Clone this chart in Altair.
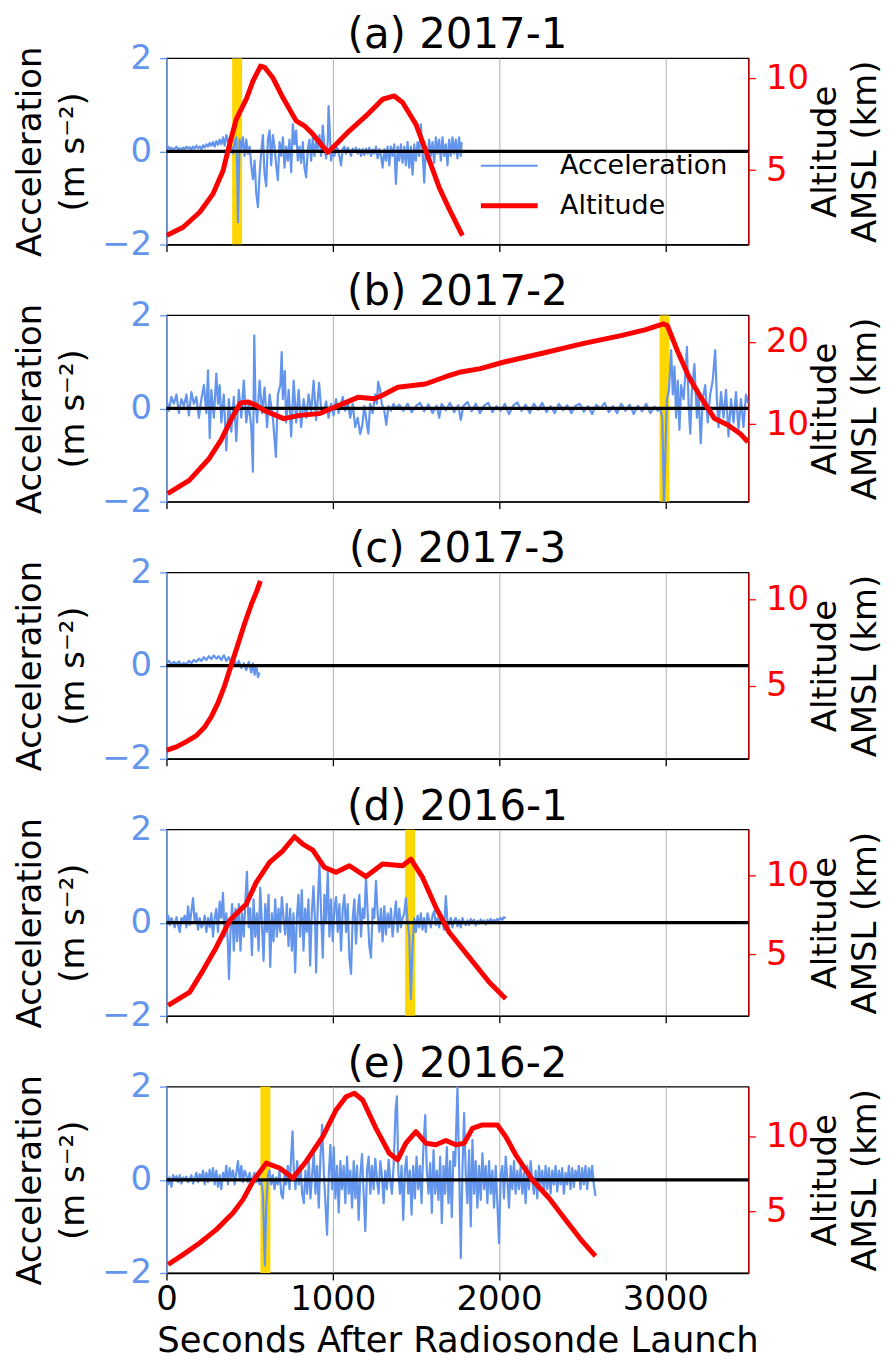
import altair as alt
import pandas as pd

FONT = "DejaVu Sans"
BLUE = "#6495ED"
RED = "#FF0000"
GOLD = "#FFD700"

# ---------------- data (seconds, value) ----------------
A_ACC = [[0,0.05],[10,0.1],[20,0.05],[30,0.08],[40,0.03],[50,0.06],[60,0.1],[70,0.04],[80,0.07],[90,0.02],
 [100,0.08],[110,0.05],[120,0.1],[130,0.06],[140,0.09],[150,0.04],[160,0.1],[170,0.06],[180,0.12],[190,0.07],
 [200,0.1],[210,0.05],[220,0.13],[230,0.08],[240,0.15],[250,0.1],[260,0.18],[270,0.12],[280,0.2],[290,0.1],
 [300,0.22],[310,0.14],[320,0.25],[330,0.15],[340,0.3],[350,0.12],[360,0.35],[370,0.2],[380,0.28],[390,0.1],
 [400,-0.05],[410,0.2],[420,0.3],[425,-0.3],[430,-1.52],[435,-0.6],[440,0.25],[450,0.05],[460,0.3],[470,-0.1],
 [480,0.25],[490,-0.05],[500,0.1],[510,-0.3],[520,-0.6],[530,-0.2],[540,-0.9],[550,-1.2],[560,-0.5],[570,0.0],
 [580,0.35],[590,-0.5],[600,-0.75],[610,0.25],[620,0.45],[630,-0.3],[640,0.35],[650,0.1],[660,-0.3],[670,-0.62],
 [680,0.2],[690,-0.1],[700,0.3],[710,-0.35],[720,0.1],[730,-0.2],[740,0.25],[750,-0.45],[760,0.58],[770,0.15],
 [780,0.45],[790,-0.2],[800,0.1],[810,-0.25],[820,0.2],[830,-0.35],[840,-0.56],[850,0.05],[860,0.25],[870,-0.2],
 [880,0.3],[890,-0.1],[900,0.2],[910,0.05],[920,0.35],[930,-0.1],[940,0.55],[950,0.1],[960,-0.15],[970,0.2],
 [975,0.97],[985,0.2],[990,-0.2],[1000,0.05],[1010,-0.1],[1020,0.1],[1030,0.05],[1040,-0.1],[1050,-0.3],[1060,0.05],
 [1070,0.1],[1080,-0.05],[1090,0.08],[1100,0.02],[1110,-0.1],[1120,0.06],[1130,0.0],[1140,0.08],[1150,-0.05],[1160,0.05],
 [1170,-0.1],[1180,0.05],[1190,-0.08],[1200,0.06],[1210,-0.05],[1220,0.08],[1230,-0.1],[1240,0.04],[1250,-0.05],[1260,0.1],
 [1270,-0.15],[1280,0.05],[1290,-0.1],[1300,-0.35],[1310,0.05],[1320,-0.2],[1330,0.1],[1340,-0.3],[1350,0.1],[1360,-0.1],
 [1370,0.15],[1380,-0.7],[1390,0.1],[1400,-0.2],[1410,0.15],[1420,-0.25],[1430,0.1],[1440,-0.3],[1450,0.2],[1460,-0.35],
 [1470,0.1],[1480,-0.5],[1490,0.15],[1500,-0.2],[1510,0.2],[1520,-0.1],[1530,0.58],[1540,0.0],[1550,-0.67],[1560,0.1],
 [1570,-0.2],[1580,0.25],[1590,-0.1],[1600,0.2],[1610,-0.25],[1620,0.3],[1630,-0.05],[1640,0.25],[1650,-0.2],[1660,0.3],
 [1670,-0.1],[1680,0.15],[1690,-0.3],[1700,0.25],[1710,-0.1],[1720,0.3],[1730,-0.05],[1740,0.25],[1750,-0.15],[1760,0.3],
 [1770,-0.1],[1775,0.2]]
A_ALT = [[0,1.43],[100,1.88],[200,2.7],[280,3.7],[340,4.96],[380,6.41],[420,7.77],[480,8.86],[520,9.85],[566,10.67],
 [590,10.6],[640,10.03],[700,8.95],[780,7.68],[830,7.41],[880,6.96],[970,5.96],[1020,6.41],[1100,7.14],[1200,7.95],
 [1300,8.86],[1370,9.04],[1420,8.68],[1500,7.5],[1560,6.05],[1640,4.05],[1700,2.88],[1780,1.43]]

B_ACC = [[0,0.2],[15,-0.05],[30,0.25],[45,0.1],[60,0.3],[75,-0.1],[90,0.2],[105,0.05],[120,0.3],[135,-0.15],
 [150,0.35],[165,0.1],[180,0.25],[195,-0.2],[210,0.2],[225,0.5],[240,-0.1],[250,0.82],[260,-0.64],[270,0.4],
 [285,-0.2],[300,0.75],[310,0.1],[320,0.5],[330,-0.3],[345,0.3],[360,-0.9],[375,0.2],[390,-0.5],[405,0.25],
 [420,-0.7],[435,0.4],[450,-0.2],[465,0.6],[480,-0.3],[495,0.1],[510,-0.4],[520,-1.36],[528,1.57],[535,0.2],
 [545,-0.3],[560,0.6],[575,-0.1],[590,0.45],[605,-0.4],[620,0.3],[640,-0.2],[658,-1.04],[670,0.3],[685,0.5],
 [693,1.21],[700,0.2],[712,0.8],[720,-0.3],[735,0.4],[750,-0.6],[765,0.6],[780,-0.3],[795,0.4],[810,-0.4],
 [825,0.2],[840,-0.2],[855,0.3],[870,-0.1],[885,0.6],[900,-0.25],[918,0.55],[930,0.0],[945,-0.1],[960,0.15],
 [975,-0.2],[990,0.1],[1005,-0.15],[1020,0.2],[1035,-0.1],[1050,0.1],[1060,0.25],[1075,-0.05],[1090,0.15],[1105,-0.2],
 [1120,0.1],[1135,-0.4],[1150,-0.2],[1165,-0.55],[1178,-0.35],[1190,0.05],[1200,-0.2],[1214,-0.54],[1225,0.1],[1240,-0.1],
 [1255,0.3],[1265,0.1],[1273,0.57],[1285,0.4],[1295,0.1],[1310,-0.05],[1322,-0.35],[1335,0.05],[1350,-0.05],[1365,0.1],
 [1380,0.0],[1400,0.08],[1425,-0.05],[1450,0.1],[1475,-0.08],[1500,0.05],[1525,0.12],[1550,-0.06],[1575,0.09],[1600,-0.1],
 [1625,0.06],[1640,-0.2],[1655,0.1],[1680,-0.04],[1705,0.12],[1730,-0.08],[1755,0.07],[1770,-0.25],[1785,0.05],[1810,0.14],
 [1835,-0.06],[1860,0.1],[1885,-0.1],[1910,0.06],[1935,0.12],[1960,-0.08],[1985,0.05],[2010,-0.05],[2035,0.1],[2060,-0.12],
 [2085,0.06],[2110,0.13],[2135,-0.05],[2160,0.08],[2185,-0.1],[2210,0.1],[2235,-0.03],[2260,0.12],[2285,-0.08],[2310,0.05],
 [2335,-0.1],[2360,0.1],[2385,-0.04],[2410,0.07],[2435,-0.1],[2460,0.06],[2485,0.1],[2510,-0.07],[2535,0.05],[2560,-0.12],
 [2585,0.08],[2610,0.0],[2635,0.12],[2660,-0.08],[2685,0.05],[2710,-0.1],[2735,0.1],[2760,-0.05],[2785,0.08],[2810,-0.12],
 [2835,0.06],[2860,-0.06],[2885,0.1],[2910,-0.1],[2935,0.04],[2955,-0.05],[2970,0.0],[2982,-0.2],[2992,-2.1],[3000,-1.0],
 [3010,0.2],[3022,0.4],[3035,1.25],[3045,0.3],[3055,0.9],[3065,-0.2],[3075,0.6],[3085,-0.46],[3095,0.5],[3110,0.2],
 [3120,0.7],[3130,1.32],[3140,0.1],[3150,-0.54],[3160,0.4],[3175,0.95],[3190,-0.2],[3200,0.3],[3213,-0.75],[3225,0.2],
 [3240,0.5],[3255,-0.3],[3270,0.3],[3285,0.6],[3300,1.25],[3310,0.2],[3320,-0.4],[3335,0.35],[3350,-0.2],[3365,0.4],
 [3380,-0.6],[3395,0.2],[3410,-0.3],[3425,0.35],[3440,-0.45],[3455,0.2],[3470,-0.4],[3485,0.3],[3500,0.1]]
B_ALT = [[7,1.58],[137,3.2],[256,5.83],[327,8.06],[397,10.9],[445,12.59],[492,12.71],[540,12.3],[587,11.7],[705,10.69],
 [800,11.09],[918,11.3],[1013,12.1],[1084,12.7],[1155,13.3],[1249,13.1],[1297,13.5],[1391,14.5],[1557,14.9],[1675,15.75],
 [1770,16.36],[1888,16.76],[2030,17.57],[2267,18.66],[2503,19.8],[2740,20.8],[2882,21.5],[2988,22.2],[3012,22.0],[3071,19.0],
 [3142,15.75],[3213,13.3],[3296,10.7],[3379,9.9],[3450,8.87],[3497,7.85]]

C_ACC = [[0,0.05],[15,0.1],[30,0.02],[45,0.08],[60,0.03],[75,0.09],[90,0.0],[105,0.06],[120,0.02],[135,0.1],
 [150,0.05],[165,0.12],[180,0.08],[195,0.15],[210,0.1],[225,0.18],[240,0.12],[255,0.2],[270,0.14],[285,0.22],
 [300,0.15],[315,0.2],[330,0.12],[345,0.22],[360,0.1],[375,0.18],[390,0.05],[405,0.12],[420,0.0],[435,0.1],
 [450,-0.05],[465,0.05],[480,-0.1],[495,0.08],[510,-0.15],[520,0.05],[530,-0.2],[540,0.0],[550,-0.25],[560,-0.15]]
C_ALT = [[0,1.25],[60,1.45],[120,1.75],[180,2.1],[230,2.6],[270,3.2],[310,4.0],[350,5.0],[390,6.2],[430,7.4],
 [470,8.6],[510,9.7],[540,10.4],[565,11.07]]

D_ACC = [[0,0.1],[10,0.15],[20,-0.05],[30,0.1],[40,0.0],[50,-0.1],[60,0.12],[70,-0.05],[80,-0.2],[90,0.1],
 [100,0.05],[110,0.15],[120,-0.1],[130,0.35],[140,-0.05],[150,0.25],[160,0.53],[170,0.0],[180,0.2],[190,-0.15],
 [200,0.1],[210,-0.1],[220,-0.05],[230,0.15],[240,-0.2],[250,0.1],[260,-0.1],[270,0.2],[280,-0.3],[290,0.1],
 [300,0.3],[310,-0.2],[320,0.45],[330,0.1],[340,0.64],[350,-0.3],[360,0.2],[370,-0.5],[376,-1.21],[385,-0.2],
 [395,0.4],[405,-0.6],[415,0.3],[425,-0.4],[435,0.4],[445,-0.6],[455,0.2],[465,-0.3],[475,0.5],[484,1.09],
 [494,-0.1],[504,0.3],[514,-0.7],[524,0.5],[534,-0.3],[544,0.2],[554,-0.6],[564,0.75],[574,0.0],[584,-0.82],
 [594,0.4],[604,-0.2],[614,0.6],[624,-0.95],[634,0.2],[644,-0.4],[654,0.5],[664,-0.3],[674,0.3],[684,-0.2],
 [694,0.55],[704,0.1],[714,-0.25],[724,0.4],[734,-0.5],[744,0.3],[754,-0.6],[764,0.2],[774,-1.07],[784,0.1],
 [794,0.6],[804,-0.3],[814,0.7],[824,-0.6],[834,0.3],[844,-0.2],[854,0.5],[864,-0.92],[874,0.2],[884,0.78],
 [894,0.0],[900,-1.07],[910,0.4],[920,1.28],[930,0.2],[940,-0.75],[950,0.6],[960,0.0],[970,1.1],[980,-0.3],
 [990,0.5],[1000,-0.4],[1010,0.3],[1020,0.55],[1030,-0.2],[1040,0.4],[1050,-0.6],[1060,0.3],[1070,0.6],[1080,-0.2],
 [1090,0.4],[1100,-0.75],[1110,-1.1],[1120,0.1],[1130,0.5],[1140,-0.45],[1150,0.2],[1160,0.6],[1170,-0.3],[1180,0.3],
 [1190,0.1],[1200,0.96],[1210,0.2],[1220,-0.5],[1230,-0.75],[1240,0.3],[1250,0.1],[1260,0.9],[1270,0.2],[1280,-0.2],
 [1290,0.3],[1300,-0.4],[1310,0.35],[1320,-0.25],[1330,0.2],[1340,-0.1],[1350,0.3],[1360,-0.3],[1370,0.1],[1380,0.46],
 [1390,-0.2],[1400,0.3],[1410,-0.1],[1420,0.1],[1430,0.2],[1440,0.53],[1450,0.0],[1460,-0.3],[1470,-1.64],[1480,-0.5],
 [1490,0.1],[1500,-0.2],[1510,0.15],[1520,-0.1],[1530,0.2],[1540,-0.15],[1550,0.1],[1560,-0.2],[1570,0.2],[1580,0.05],
 [1590,-0.1],[1600,0.15],[1610,0.25],[1620,-0.05],[1630,0.1],[1640,-0.1],[1650,0.15],[1660,0.0],[1670,-0.15],[1680,0.57],
 [1690,0.0],[1700,-0.05],[1710,0.1],[1720,-0.1],[1730,0.05],[1740,0.1],[1750,-0.08],[1760,0.05],[1770,-0.1],[1780,0.1],
 [1790,0.0],[1800,-0.05],[1810,0.05],[1820,-0.05],[1830,0.08],[1840,0.0],[1850,0.06],[1860,-0.06],[1870,0.04],[1880,-0.02],
 [1890,0.07],[1900,0.0],[1910,0.05],[1920,-0.04],[1930,0.06],[1940,0.02],[1950,0.08],[1960,0.0],[1970,0.06],[1980,0.03],
 [1990,0.08],[2000,0.05],[2010,0.1],[2020,0.06],[2030,0.12],[2040,0.1]]
D_ALT = [[10,1.77],[140,2.61],[220,3.99],[300,5.46],[380,7.15],[480,8.2],[540,9.58],[620,10.84],[700,11.58],[770,12.47],
 [820,12.0],[880,11.62],[950,10.53],[1020,10.21],[1100,10.63],[1200,9.94],[1300,10.74],[1420,10.63],[1470,11.05],[1540,9.89],
 [1620,7.99],[1700,6.41],[1820,4.83],[1940,3.25],[2040,2.19]]

E_ACC = [[0,0.2],[10,-0.1],[20,0.05],[30,-0.15],[40,0.1],[50,0.0],[60,0.08],[70,-0.05],[80,0.1],[90,-0.08],
 [100,0.05],[110,0.0],[120,0.07],[130,-0.05],[140,0.02],[150,0.1],[160,-0.08],[170,0.05],[180,0.15],[190,-0.05],
 [200,0.12],[210,0.0],[220,0.2],[230,-0.1],[240,0.15],[250,-0.05],[260,0.22],[270,0.0],[280,0.25],[290,-0.1],
 [300,0.2],[310,-0.15],[320,0.1],[330,-0.2],[340,0.15],[350,0.0],[360,0.3],[370,-0.1],[380,0.25],[390,0.05],
 [400,0.2],[410,-0.1],[420,0.15],[430,0.4],[440,0.0],[450,0.3],[460,-0.05],[470,0.2],[480,0.1],[490,-0.05],
 [500,0.15],[510,-0.1],[520,0.05],[530,0.15],[540,-0.05],[550,0.1],[560,-0.1],[570,0.0],[580,-0.3],[592,-1.84],
 [600,-0.6],[610,0.1],[620,0.2],[630,-0.1],[640,0.1],[650,-0.2],[660,0.05],[670,-0.1],[680,0.2],[690,-0.3],
 [700,-0.4],[710,0.1],[720,-0.1],[730,0.3],[740,-0.2],[750,0.5],[758,1.04],[766,0.2],[776,-0.2],[786,0.4],
 [796,-0.1],[806,0.3],[816,-0.3],[826,-0.5],[836,0.2],[846,-0.3],[856,0.4],[866,-0.4],[876,0.1],[886,0.6],
 [896,-0.3],[906,0.3],[916,-0.6],[926,0.5],[936,1.18],[946,0.2],[956,-0.5],[966,-1.18],[976,0.1],[986,0.75],
 [996,-0.2],[1006,0.7],[1016,-0.4],[1026,0.3],[1036,-0.7],[1046,0.4],[1056,-0.2],[1066,0.3],[1076,-0.5],[1086,0.5],
 [1096,-0.3],[1106,0.2],[1116,-0.6],[1126,0.4],[1136,-0.4],[1146,0.3],[1156,-0.86],[1166,0.1],[1176,0.55],[1186,-0.3],
 [1196,-1.1],[1206,0.2],[1216,0.5],[1226,-0.3],[1236,0.3],[1246,-0.2],[1256,0.45],[1266,0.0],[1276,-0.3],[1286,0.4],
 [1296,0.1],[1306,-0.5],[1316,0.2],[1326,-0.2],[1336,0.43],[1346,0.0],[1356,-0.3],[1366,0.3],[1378,1.5],[1386,1.79],
 [1394,0.2],[1404,-0.3],[1414,0.3],[1424,-0.86],[1434,0.2],[1444,0.5],[1454,-0.3],[1464,0.2],[1474,-0.75],[1484,0.3],
 [1494,-0.4],[1504,0.5],[1514,-0.2],[1524,0.3],[1534,-0.5],[1544,0.6],[1556,1.39],[1566,0.2],[1576,-0.3],[1586,0.36],
 [1596,-0.71],[1606,0.64],[1616,-0.3],[1626,0.2],[1636,-0.43],[1646,0.5],[1656,-0.93],[1666,0.3],[1676,-0.3],[1686,0.7],
 [1696,-0.5],[1706,0.4],[1716,-0.8],[1726,0.6],[1736,0.3],[1750,2.0],[1760,0.3],[1770,-1.68],[1780,0.2],[1790,1.43],
 [1800,0.1],[1810,-0.5],[1820,0.64],[1830,-1.0],[1840,0.86],[1850,-0.3],[1860,0.4],[1870,-0.6],[1880,0.3],[1890,-0.43],
 [1900,0.57],[1910,-0.2],[1920,0.3],[1930,-0.5],[1940,0.4],[1950,-0.3],[1960,0.2],[1970,-0.6],[1980,0.3],[1990,-0.5],
 [2000,-1.36],[2010,0.1],[2020,0.3],[2030,-0.4],[2040,0.5],[2050,0.0],[2060,-0.6],[2070,0.3],[2080,-0.2],[2090,0.4],
 [2100,-0.3],[2110,0.2],[2120,-0.2],[2130,0.3],[2140,-0.3],[2150,0.15],[2160,-0.5],[2170,0.3],[2180,-0.2],[2190,0.4],
 [2200,0.0],[2210,-0.3],[2220,0.2],[2230,-0.4],[2240,0.3],[2250,-0.1],[2260,0.2],[2270,-0.3],[2280,0.3],[2290,-0.2],
 [2300,0.25],[2310,-0.3],[2320,0.2],[2330,-0.1],[2340,0.3],[2350,-0.25],[2360,0.2],[2370,-0.1],[2380,0.25],[2390,-0.3],
 [2400,0.15],[2410,-0.1],[2420,0.3],[2430,-0.2],[2440,0.25],[2450,-0.15],[2460,0.2],[2470,0.0],[2480,0.3],[2490,-0.2],
 [2500,0.25],[2510,-0.1],[2520,0.3],[2530,-0.2],[2540,0.25],[2550,0.0],[2560,0.3],[2570,-0.1],[2580,-0.35]]
E_ALT = [[10,1.4],[100,2.07],[200,2.85],[300,3.75],[400,4.87],[460,5.77],[520,7.0],[600,8.23],[680,7.9],[760,7.22],
 [840,8.34],[940,10.02],[1020,11.81],[1080,12.7],[1130,12.93],[1180,12.48],[1260,10.57],[1340,8.89],[1390,8.45],[1440,9.57],
 [1500,10.35],[1560,9.57],[1620,9.46],[1680,9.75],[1740,9.46],[1790,9.57],[1840,10.57],[1900,10.8],[1990,10.8],[2040,10.02],
 [2100,8.79],[2200,7.11],[2300,5.88],[2400,4.42],[2500,2.97],[2580,1.96]]

# highlighted windows (s)
BANDS = {"a": [395, 455], "b": [2965, 3025], "c": None, "d": [1435, 1495], "e": [565, 625]}
ALT_DOMAINS = {"a": [0.94, 11.1], "b": [0.62, 23.24], "c": [0.76, 11.56], "d": [1.1, 12.93], "e": [0.83, 13.38]}
ALT_TICKS = {"a": [5, 10], "b": [10, 20], "c": [5, 10], "d": [5, 10], "e": [5, 10]}
TITLES = {"a": "(a) 2017-1", "b": "(b) 2017-2", "c": "(c) 2017-3", "d": "(d) 2016-1", "e": "(e) 2016-2"}
SERIES = ["Acceleration", "Altitude"]
X_TICKS = [0, 1000, 2000, 3000]
ACC_TICKS = [-2, 0, 2]

W, H = 584, 187


def panel(key, acc, altd, bottom=False, legend=False):
    acc_df = pd.DataFrame(acc, columns=["t", "v"]).assign(series=SERIES[0])
    alt_df = pd.DataFrame(altd, columns=["t", "v"]).assign(series=SERIES[1])
    xscale = alt.Scale(domain=[0, 3500], nice=False, zero=False)
    xkw = dict(values=X_TICKS, labels=bottom, grid=True, gridColor="#b0b0b0", gridWidth=1, tickColor="black",
               domainColor="black", tickSize=7, labelFlush=False, labelPadding=3, titlePadding=7,
               titleFontSize=35.5, format="d")
    if bottom:
        xaxis = alt.Axis(title="Seconds After Radiosonde Launch", **xkw)
    else:
        xaxis = alt.Axis(title=None, **xkw)
    yacc = alt.Scale(domain=[-2, 2], nice=False, zero=False)
    yaxis = alt.Axis(values=ACC_TICKS, title=["Acceleration", "(m s⁻²)"], labelColor=BLUE, tickColor=BLUE,
                     domainColor=BLUE, grid=False, tickSize=7, labelPadding=8, titlePadding=11, titleLineHeight=43)
    yalt = alt.Scale(domain=ALT_DOMAINS[key], nice=False, zero=False)
    raxis = alt.Axis(orient="right", values=ALT_TICKS[key], title=["Altitude", "AMSL (km)"], labelColor=RED,
                     tickColor=RED, domainColor=RED, grid=False, tickSize=7, labelPadding=10,
                     titleAngle=270, titleBaseline="top", titleAlign="center", titleX=60, titleY=H / 2,
                     titleLineHeight=40)

    lg = alt.Legend(title=None, orient="none", legendX=313, legendY=98, symbolType="stroke", symbolSize=3249,
                    labelFontSize=27, labelFont=FONT, labelOffset=20, clipHeight=20, rowPadding=13, padding=0,
                    labelColor="black", labelLimit=400)
    if legend:
        col = alt.Color("series:N", scale=alt.Scale(domain=SERIES, range=[BLUE, RED]), legend=lg)
        sw = alt.StrokeWidth("series:N", scale=alt.Scale(type="point", domain=SERIES, range=[2.2, 5], padding=0), legend=lg)
        blue = alt.Chart(acc_df).mark_line(clip=True, strokeJoin="round").encode(
            x=alt.X("t:Q", scale=xscale, axis=xaxis), y=alt.Y("v:Q", scale=yacc, axis=yaxis), color=col, strokeWidth=sw)
        red = alt.Chart(alt_df).mark_line(clip=True, strokeJoin="round").encode(
            x=alt.X("t:Q", scale=xscale, axis=xaxis), y=alt.Y("v:Q", scale=yalt, axis=raxis), color=col, strokeWidth=sw)
    else:
        blue = alt.Chart(acc_df).mark_line(clip=True, color=BLUE, strokeWidth=2.2, strokeJoin="round").encode(
            x=alt.X("t:Q", scale=xscale, axis=xaxis), y=alt.Y("v:Q", scale=yacc, axis=yaxis))
        red = alt.Chart(alt_df).mark_line(clip=True, color=RED, strokeWidth=5, strokeJoin="round").encode(
            x=alt.X("t:Q", scale=xscale, axis=xaxis), y=alt.Y("v:Q", scale=yalt, axis=raxis))

    zero = alt.Chart(pd.DataFrame({"v": [0]})).mark_rule(color="black", strokeWidth=3.3).encode(
        y=alt.Y("v:Q", scale=yacc, axis=yaxis))
    left_layers = []
    if BANDS[key]:
        bdf = pd.DataFrame({"t": [BANDS[key][0]], "t1": [BANDS[key][1]]})
        left_layers.append(alt.Chart(bdf).mark_rect(color=GOLD, clip=True).encode(
            x=alt.X("t:Q", scale=xscale, axis=xaxis), x2="t1:Q"))
    left_layers += [blue, zero]
    left = alt.layer(*left_layers)
    return alt.layer(left, red).resolve_scale(y="independent").properties(
        width=W, height=H, title=alt.Title(TITLES[key], frame="group", offset=-16))


chart = alt.vconcat(
    panel("a", A_ACC, A_ALT, legend=True),
    panel("b", B_ACC, B_ALT),
    panel("c", C_ACC, C_ALT),
    panel("d", D_ACC, D_ALT),
    panel("e", E_ACC, E_ALT, bottom=True),
    spacing=8,
).resolve_scale(x="independent", y="independent", color="independent", strokeWidth="independent"
).resolve_legend(color="independent", strokeWidth="independent"
).configure_view(stroke="black", strokeWidth=1.3
).configure_axis(labelFont=FONT, titleFont=FONT, labelFontSize=34, titleFontSize=34, titleFontWeight="normal",
                 titleColor="black", tickWidth=1.3, domainWidth=1.3, labelColor="black"
).configure_title(font=FONT, fontSize=42, fontWeight="normal", anchor="middle", color="black"
).properties(padding={"left": 5, "top": 3, "right": 0, "bottom": -2}, background="white")

chart.save("out.html", embed_options={"renderer": "svg", "actions": False})
